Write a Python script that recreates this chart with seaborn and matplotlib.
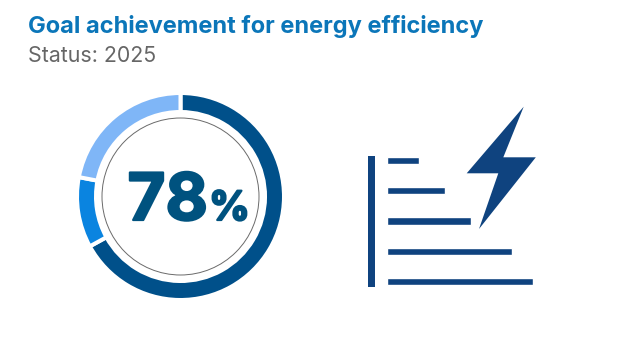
import matplotlib
matplotlib.use("Agg")
import matplotlib.pyplot as plt
from matplotlib.patches import Circle, Polygon, Rectangle
import matplotlib.patheffects as pe
import pandas as pd
import seaborn as sns

# Data
title = "Goal achievement for energy efficiency"
subtitle = "Status: 2025"
segments = ["Achieved", "Achieved, recent", "Remaining"]
shares = [67, 11, 22]
segment_colors = ["#00508a", "#0a84e0", "#7fb6f7"]
headline = "78"
headline_unit = "%"
icon_rows = ["a", "b", "c", "d", "e"]
icon_lengths = [32, 58, 84, 125, 146]

W, H = 640, 360
ICON = "#0f437f"
TEXT_DARK = "#00527f"
sns.set_theme(style="white", rc={"axes.facecolor": "none", "figure.facecolor": "white"})
plt.rcParams["font.family"] = ["Inter", "DejaVu Sans"]

fig = plt.figure(figsize=(W / 100, H / 100), dpi=100)


def px_axes(left, top, width, height):
    return fig.add_axes([left / W, 1 - (top + height) / H, width / W, height / H])


# Donut
cx, cy = 180.5, 196.5
ax = px_axes(cx - 120, cy - 120, 240, 240)
ax.pie(shares, colors=segment_colors, startangle=90, counterclock=False, radius=103.5,
       wedgeprops=dict(width=19, edgecolor="white", linewidth=2.9))
ax.set_xlim(-120, 120)
ax.set_ylim(-120, 120)
ax.add_patch(Circle((0, 0), 78.5, fill=False, edgecolor="#6a6a6a", linewidth=0.7))
ax.axis("off")

# Icon bars
frame = pd.DataFrame({"row": icon_rows, "length": icon_lengths})
bx = px_axes(386.5, 145, 146.5, 152)
sns.barplot(data=frame, y="row", x="length", orient="h", color=ICON, saturation=1, width=0.24, ax=bx)
bx.set_xlim(0, max(icon_lengths))
bx.axis("off")

# Overlay in pixel coordinates: icon outline and text
ov = fig.add_axes([0, 0, 1, 1])
ov.set_xlim(0, W)
ov.set_ylim(H, 0)
ov.axis("off")
ov.patch.set_alpha(0)
ov.add_patch(Rectangle((368, 156), 7, 130.5, color=ICON, lw=0))
bolt = [(523.7, 106.7), (503.3, 157.3), (535.8, 157.3), (479, 229), (498.3, 173.3), (466.7, 173.3)]
ov.add_patch(Polygon(bolt, closed=True, color=ICON, lw=0))

ov.text(28, 33.5, title, color="#0b76b9", fontsize=17, fontweight="bold", ha="left", va="baseline")
ov.text(28, 62, subtitle, color="#666666", fontsize=15.4, ha="left", va="baseline")
thick = [pe.withStroke(linewidth=1.6, foreground=TEXT_DARK)]
ov.text(127.5, 220, headline, color=TEXT_DARK, fontsize=47, fontweight="bold", ha="left", va="baseline", path_effects=thick)
ov.text(209, 220, headline_unit, color=TEXT_DARK, fontsize=29, fontweight="bold", ha="left", va="baseline", path_effects=thick)

fig.savefig("out.png", dpi=100)
